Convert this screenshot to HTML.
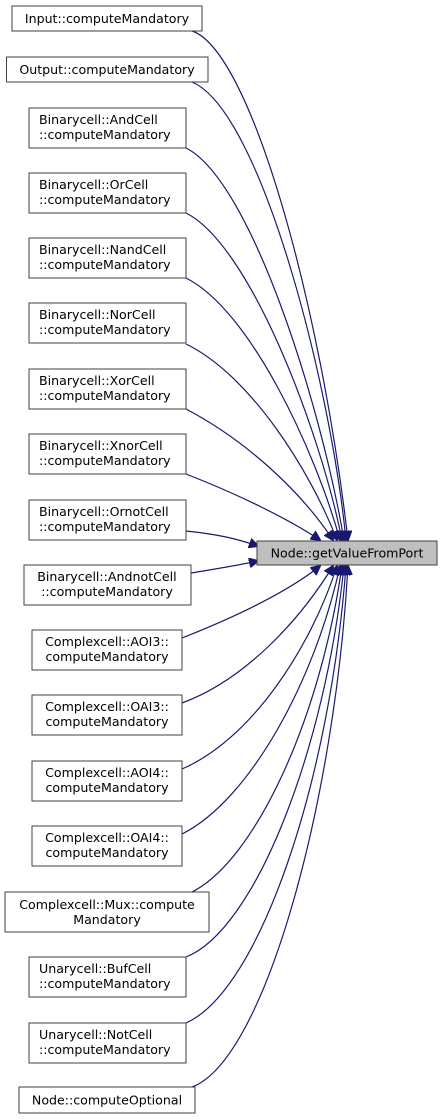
<!DOCTYPE html>
<html><head><style>body{margin:0;background:#fff}svg{display:block}text{font-family:"DejaVu Sans","Liberation Sans",sans-serif;font-size:12.6px;fill:#000}</style></head><body>
<svg width="443" height="1120" viewBox="0 0 443 1120" xmlns="http://www.w3.org/2000/svg">
<defs><marker id="a" markerWidth="10" markerHeight="10" refX="9" refY="5" orient="auto" markerUnits="userSpaceOnUse"><path d="M0,0 L10,5 L0,10 z" fill="#191970" stroke="#191970"/></marker></defs>
<g fill="none" stroke="#191970" stroke-width="1.2" marker-end="url(#a)">
<path d="M192,31 C250,50 320,300 348,540"/>
<path d="M192,82 C260,110 330,380 346,540"/>
<path d="M186,148 C250,180 320,400 344,540"/>
<path d="M186,213 C250,245 320,430 342,540"/>
<path d="M186,278 C250,310 315,450 340,540"/>
<path d="M186,344 C250,375 310,470 337,540"/>
<path d="M186,409 C245,440 300,490 333,540"/>
<path d="M186,474 C240,495 290,520 320,540"/>
<path d="M186,531 C215,534 235,538 258,546"/>
<path d="M191,573 C215,569 235,566 258,561"/>
<path d="M182,638 C240,615 290,590 320,566"/>
<path d="M182,703 C245,680 300,620 333,566"/>
<path d="M182,769 C250,740 310,650 337,566"/>
<path d="M182,834 C250,800 315,680 340,566"/>
<path d="M192,892 C255,860 320,720 342,566"/>
<path d="M186,957 C255,930 325,750 344,566"/>
<path d="M186,1023 C260,990 330,780 346,566"/>
<path d="M192,1087 C265,1060 335,800 348,566"/>
</g>
<g fill="#fff" stroke="#404040" stroke-width="1">
<rect x="12" y="6" width="190" height="25"/>
<rect x="6.5" y="57" width="201.5" height="25"/>
<rect x="29" y="108" width="157" height="40"/>
<rect x="29" y="173" width="157" height="40"/>
<rect x="29" y="238" width="157" height="40"/>
<rect x="29" y="303" width="157" height="40"/>
<rect x="29" y="369" width="157" height="40"/>
<rect x="29" y="434" width="157" height="40"/>
<rect x="29" y="500" width="157" height="40"/>
<rect x="24" y="565" width="167" height="40"/>
<rect x="32" y="630" width="150" height="40"/>
<rect x="32" y="695" width="150" height="40"/>
<rect x="32" y="761" width="150" height="40"/>
<rect x="32" y="826" width="150" height="40"/>
<rect x="5" y="892" width="204" height="40"/>
<rect x="29" y="957" width="157" height="40"/>
<rect x="29" y="1023" width="157" height="40"/>
<rect x="19" y="1087" width="176" height="26"/>
<rect x="257" y="541" width="180" height="24" fill="#bfbfbf"/>
</g>
<g text-anchor="middle">
<text x="107" y="23">Input::computeMandatory</text>
<text x="107" y="74">Output::computeMandatory</text>
<text x="347" y="557.5">Node::getValueFromPort</text>
<text x="107" y="1104.5">Node::computeOptional</text>
<text x="107" y="909">Complexcell::Mux::compute</text>
<text x="107" y="924">Mandatory</text>
</g>
<g>
<text x="39" y="124">Binarycell::AndCell</text><text x="39" y="139">::computeMandatory</text>
<text x="39" y="189">Binarycell::OrCell</text><text x="39" y="204">::computeMandatory</text>
<text x="39" y="254">Binarycell::NandCell</text><text x="39" y="269">::computeMandatory</text>
<text x="39" y="319">Binarycell::NorCell</text><text x="39" y="334">::computeMandatory</text>
<text x="39" y="385">Binarycell::XorCell</text><text x="39" y="400">::computeMandatory</text>
<text x="39" y="450">Binarycell::XnorCell</text><text x="39" y="465">::computeMandatory</text>
<text x="39" y="516">Binarycell::OrnotCell</text><text x="39" y="531">::computeMandatory</text>
<text x="107" y="581" text-anchor="middle">Binarycell::AndnotCell</text><text x="107" y="596" text-anchor="middle">::computeMandatory</text>
<text x="107" y="646" text-anchor="middle">Complexcell::AOI3::</text><text x="107" y="661" text-anchor="middle">computeMandatory</text>
<text x="107" y="711" text-anchor="middle">Complexcell::OAI3::</text><text x="107" y="726" text-anchor="middle">computeMandatory</text>
<text x="107" y="777" text-anchor="middle">Complexcell::AOI4::</text><text x="107" y="792" text-anchor="middle">computeMandatory</text>
<text x="107" y="842" text-anchor="middle">Complexcell::OAI4::</text><text x="107" y="857" text-anchor="middle">computeMandatory</text>
<text x="39" y="973">Unarycell::BufCell</text><text x="39" y="988">::computeMandatory</text>
<text x="39" y="1039">Unarycell::NotCell</text><text x="39" y="1054">::computeMandatory</text>
</g>
</svg>
</body></html>
